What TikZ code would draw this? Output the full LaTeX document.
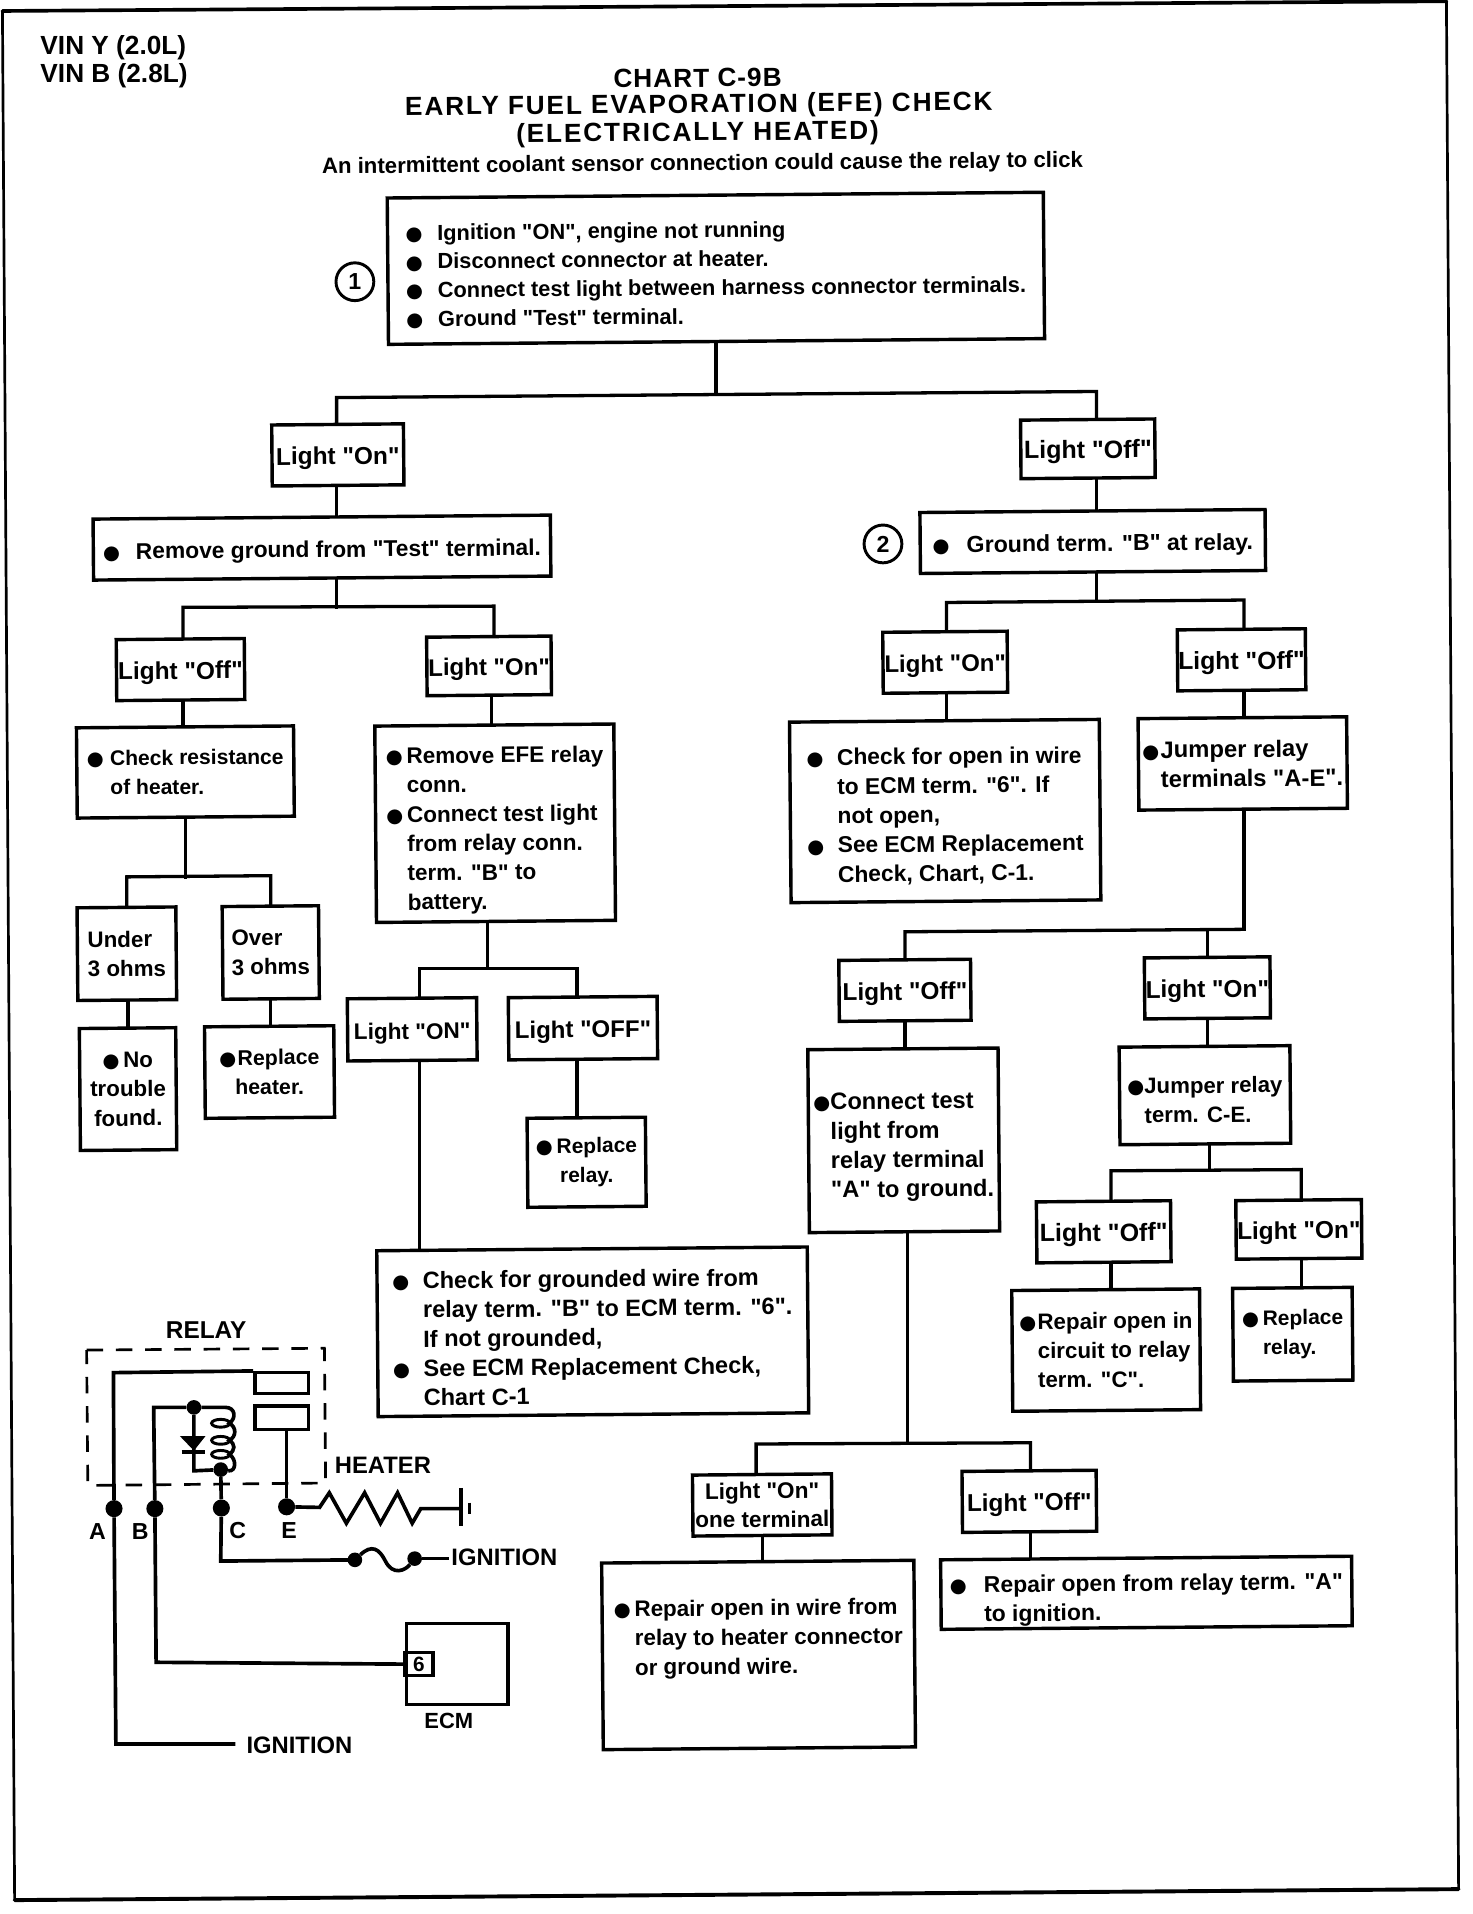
\documentclass[tikz,border=0pt]{standalone}
\usepackage{fontspec}
\usetikzlibrary{backgrounds,calc}
\newfontfamily\hv{Liberation Sans Bold}
\newfontfamily\hvr[LetterSpace=3.8]{Liberation Sans Bold}
\newfontfamily\hvw[LetterSpace=7]{Liberation Sans Bold}
\newfontfamily\bulfont{DejaVu Sans}
\newcommand{\bl}[1][22]{\makebox[#1pt][l]{\bulfont\fontsize{16}{16}\selectfont ●}}
\newcommand{\ind}[1]{\makebox[#1pt]{}}
\newcommand{\dn}[1]{\rule{0pt}{#1pt}}
\tikzset{
 x=1pt,y=-1pt,
 fs/.style={font=\hv\fontsize{#1}{24}\selectfont},
 box/.style={draw=black,fill=white,line width=2.8pt,rotate=0.5,inner sep=0pt,align=left,fs=19,
   execute at begin node={\rule{0pt}{20pt}}},
 boxc/.style={box,align=center},
 wire/.style={line width=2.7pt,line cap=rect,line join=miter},
 sch/.style={line width=3pt,line join=miter},
 lab/.style={inner sep=0pt,fs=19.5},
 ttl/.style={inner sep=0pt,rotate=0.5,font=\hvr\fontsize{21.5}{24}\selectfont},
 ttlw/.style={ttl,font=\hvw\fontsize{21.5}{24}\selectfont},
 num/.style={draw=black,line width=2.4pt,circle,minimum size=31pt,inner sep=0pt,fs=19},
 dot/.style={circle,fill=black,draw=none,minimum size=14pt,inner sep=0pt},
 fdot/.style={circle,fill=black,draw=none,minimum size=12pt,inner sep=0pt},
}
\begin{document}
\begin{tikzpicture}
\useasboundingbox (0,0) rectangle (1207,1569.4);
% page frame
\draw[line width=2.2pt] (2,9) -- (12,1558);
\draw[line width=2.2pt] (1186,1) -- (1196,1549);
\draw[line width=3pt,line cap=round] (2,9) -- (1186,1);
\draw[line width=3.2pt,line cap=round] (12,1558) -- (1196,1549);
% header
\node[lab,anchor=west,fs=21.5] (vin1) at (33,39) {VIN Y (2.0L)};
\node[lab,anchor=west,fs=21.5] (vin2) at (33,62) {VIN B (2.8L)};
\node[ttl] (t1) at (572,64) {CHART C-9B};
\node[ttlw] (t2) at (573,87) {EARLY FUEL EVAPORATION (EFE) CHECK};
\node[ttlw] (t3) at (572,110) {(ELECTRICALLY HEATED)};
\node[ttl,fs=18.2] (t4) at (576,135) {An intermittent coolant sensor connection could cause the relay to click};
% step markers
\node[num] (n1) at (291,231) {1};
\node[num] (n2) at (724,446) {2};
% boxes
\node[box,minimum width=538pt,minimum height=120pt,font=\hv\fontsize{17.9}{23.5}\selectfont] (top) at (587,220) {\dn{22.5}\bl[26]Ignition "ON", engine not running\\\bl[26]Disconnect connector at heater.\\\bl[26]Connect test light between harness connector terminals.\\\bl[26]Ground "Test" terminal.};
\node[boxc,minimum width=108pt,minimum height=50pt,fs=20] (on1) at (277,373) {Light "On"};
\node[boxc,minimum width=110pt,minimum height=48pt,fs=20.5] (off1) at (892,368) {Light "Off"};
\node[box,minimum width=375pt,minimum height=50pt,fs=18.7] (rg) at (264,449) {\bl[27]Remove ground from "Test" terminal.};
\node[box,minimum width=283pt,minimum height=50pt,fs=19] (gb) at (896,444) {\bl[28]Ground term. "B" at relay.};
\node[boxc,minimum width=105pt,minimum height=50pt,fs=20] (off2) at (148,549) {Light "Off"};
\node[boxc,minimum width=102pt,minimum height=48pt,fs=19.7] (on2) at (401,546) {Light "On"};
\node[boxc,minimum width=102pt,minimum height=50pt,fs=19.7] (on3) at (775,543) {Light "On"};
\node[boxc,minimum width=105pt,minimum height=50pt,fs=20.3] (off3) at (1018,541) {Light "Off"};
\node[box,minimum width=178pt,minimum height=74pt,fs=17.3] (cr) at (152,633) {\bl[19]Check resistance\\\ind{19}of heater.};
\node[box,minimum width=196pt,minimum height=161pt,fs=18.5] (efe) at (406,675) {\dn{25}\bl[17]Remove EFE relay\\\ind{17}conn.\\\bl[17]Connect test light\\\ind{17}from relay conn.\\\ind{17}term. "B" to\\\ind{17}battery.};
\node[box,minimum width=254pt,minimum height=148pt,fs=18.7] (co) at (775,665) {\dn{22}\bl[25]Check for open in wire\\\ind{25}to ECM term. "6". If\\\ind{25}not open,\\\bl[25]See ECM Replacement\\\ind{25}Check, Chart, C-1.};
\node[box,minimum width=171pt,minimum height=75pt,fs=19.5] (jr) at (1019,626) {\bl[15]Jumper relay\\\ind{15}terminals "A-E".};
\node[box,minimum width=81pt,minimum height=76pt,fs=18.3] (u3) at (104,782) {Under\\3 ohms};
\node[box,minimum width=79pt,minimum height=76pt,fs=18.3] (o3) at (222,781) {Over\\3 ohms};
\node[boxc,minimum width=79pt,minimum height=100pt,fs=18.3] (nt) at (105,893) {\bl[17]No\\trouble\\found.};
\node[boxc,minimum width=106pt,minimum height=75pt,fs=17.5] (rh) at (221,879) {\bl[15]Replace\\heater.};
\node[boxc,minimum width=106pt,minimum height=51pt,fs=18.5] (lon) at (338,844) {Light "ON"};
\node[boxc,minimum width=122pt,minimum height=51pt,fs=19.7] (loff) at (478,843) {Light "OFF"};
\node[boxc,minimum width=97pt,minimum height=73pt,fs=17.2] (rr1) at (481,953) {\bl[17]Replace\\relay.};
\node[box,minimum width=353pt,minimum height=136pt,fs=19.3] (cg) at (486,1092) {\dn{23}\bl[25]Check for grounded wire from\\\ind{25}relay term. "B" to ECM term. "6".\\\ind{25}If not grounded,\\\bl[25]See ECM Replacement Check,\\\ind{25}Chart C-1};
\node[boxc,minimum width=108pt,minimum height=50pt,fs=20] (off4) at (742,812) {Light "Off"};
\node[boxc,minimum width=103pt,minimum height=50pt,fs=20] (on4) at (990,810) {Light "On"};
\node[box,minimum width=156pt,minimum height=150pt,fs=19.4] (ct) at (741,935) {\dn{25}\bl[14]Connect test\\\ind{14}light from\\\ind{14}relay terminal\\\ind{14}"A" to ground.};
\node[box,minimum width=140pt,minimum height=80pt,fs=18.2] (jc) at (988,898) {\dn{21}\bl[14]Jumper relay\\\ind{14}term. C-E.};
\node[boxc,minimum width=110pt,minimum height=50pt,fs=20.5] (off5) at (905,1010) {Light "Off"};
\node[boxc,minimum width=103pt,minimum height=48pt,fs=20] (on5) at (1065,1008) {Light "On"};
\node[box,minimum width=154pt,minimum height=99pt,fs=18.3] (ro) at (907,1107) {\bl[15]Repair open in\\\ind{15}circuit to relay\\\ind{15}term. "C".};
\node[box,minimum width=98pt,minimum height=76pt,fs=17.2] (rr2) at (1060,1094) {\bl[17]Replace\\\ind{17}relay.};
\node[boxc,minimum width=114pt,minimum height=50pt,font=\hv\fontsize{18.5}{23.5}\selectfont] (on6) at (625,1234) {Light "On"\\one terminal};
\node[boxc,minimum width=110pt,minimum height=50pt,fs=20] (off6) at (844,1231) {Light "Off"};
\node[box,minimum width=256pt,minimum height=153pt,fs=18.4] (rw) at (622,1357) {\bl[17]Repair open in wire from\\\ind{17}relay to heater connector\\\ind{17}or ground wire.\\[6pt]~};
\node[box,minimum width=337pt,minimum height=57pt,fs=18.8] (rf) at (940,1306) {\dn{25}\bl[28]Repair open from relay term. "A"\\\ind{28}to ignition.};
% junctions
\coordinate (b1l) at (276,326); \coordinate (b1r) at (899,321); \coordinate (b1m) at (587,323);
\coordinate (b2l) at (150,498); \coordinate (b2r) at (405,497); \coordinate (b2m) at (276,498);
\coordinate (b3l) at (776,494); \coordinate (b3r) at (1020,492); \coordinate (b3m) at (899,493);
\coordinate (b4l) at (104,719); \coordinate (b4r) at (222,718); \coordinate (b4m) at (152,719);
\coordinate (b5l) at (344,794); \coordinate (b5r) at (473,794); \coordinate (b5m) at (400,794);
\coordinate (b6l) at (742,764); \coordinate (b6r) at (1020,762); \coordinate (b6m) at (990,762);
\coordinate (b7l) at (911,960); \coordinate (b7r) at (1067,959); \coordinate (b7m) at (992,960);
\coordinate (b8l) at (620,1184); \coordinate (b8r) at (845,1183); \coordinate (b8m) at (744,1183);
\begin{pgfonlayer}{background}
\draw[wire] (b1m |- top.center) -- (b1m);
\draw[wire] (b1l |- on1.center) -- (b1l) -- (b1r) -- (b1r |- off1.center);
\draw[wire] (276,398 |- on1.center) -- (276,398 |- rg.center);
\draw[wire] (899,392 |- off1.center) -- (899,392 |- gb.center);
\draw[wire] (b2m |- rg.center) -- (b2m);
\draw[wire] (b2l |- off2.center) -- (b2l) -- (b2r) -- (b2r |- on2.center);
\draw[wire] (b3m |- gb.center) -- (b3m);
\draw[wire] (b3l |- on3.center) -- (b3l) -- (b3r) -- (b3r |- off3.center);
\draw[wire] (150,574 |- off2.center) -- (150,574 |- cr.center);
\draw[wire] (403,570 |- on2.center) -- (403,570 |- efe.center);
\draw[wire] (776,569 |- on3.center) -- (776,569 |- co.center);
\draw[wire] (1020,566 |- off3.center) -- (1020,566 |- jr.center);
\draw[wire] (b4m |- cr.center) -- (b4m);
\draw[wire] (b4l |- u3.center) -- (b4l) -- (b4r) -- (b4r |- o3.center);
\draw[wire] (105,820 |- u3.center) -- (105,820 |- nt.center);
\draw[wire] (222,819 |- o3.center) -- (222,819 |- rh.center);
\draw[wire] (b5m |- efe.center) -- (b5m);
\draw[wire] (b5l |- lon.center) -- (b5l) -- (b5r) -- (b5r |- loff.center);
\draw[wire] (344,870 |- lon.center) -- (344,870 |- cg.center);
\draw[wire] (473,869 |- loff.center) -- (473,869 |- rr1.center);
\draw[wire] (b6r |- jr.center) -- (b6r);
\draw[wire] (b6l |- off4.center) -- (b6l) -- (b6r);
\draw[wire] (b6m) -- (b6m |- on4.center);
\draw[wire] (742,837 |- off4.center) -- (742,837 |- ct.center);
\draw[wire] (990,835 |- on4.center) -- (990,835 |- jc.center);
\draw[wire] (b7m |- jc.center) -- (b7m);
\draw[wire] (b7l |- off5.center) -- (b7l) -- (b7r) -- (b7r |- on5.center);
\draw[wire] (911,1035 |- off5.center) -- (911,1035 |- ro.center);
\draw[wire] (1067,1032 |- on5.center) -- (1067,1032 |- rr2.center);
\draw[wire] (b8m |- ct.center) -- (b8m);
\draw[wire] (b8l |- on6.center) -- (b8l) -- (b8r) -- (b8r |- off6.center);
\draw[wire] (625,1259 |- on6.center) -- (625,1259 |- rw.center);
\draw[wire] (845,1256 |- off6.center) -- (845,1256 |- rf.center);
\end{pgfonlayer}
% relay schematic
\node[lab,fs=20] (relay) at (169,1090.5) {RELAY};
\draw[line width=2.2pt,dash pattern=on 13.5pt off 10.5pt] (71,1107) -- (266,1105.5) -- (267,1216) -- (72,1218) -- cycle;
\node[lab] (heater) at (314,1201.5) {HEATER};
\node[draw=black,line width=2.8pt,inner sep=0pt,minimum width=44pt,minimum height=17pt] (c1) at (231,1134) {};
\node[draw=black,line width=2.8pt,inner sep=0pt,minimum width=44pt,minimum height=19pt] (c2) at (231,1162.4) {};
\node[dot] (a) at (93.5,1237) {};
\node[dot] (b) at (127,1237) {};
\node[dot] (c) at (181.5,1236.5) {};
\node[dot] (e) at (235,1235.5) {};
\node[fdot] (j1) at (159,1154) {};
\node[dot,minimum size=12pt] (j2) at (181,1205) {};
\node[lab,fs=19] (la) at (80,1256) {A};
\node[lab,fs=19] (lb) at (115,1256) {B};
\node[lab,fs=19] (lc) at (195,1255) {C};
\node[lab,fs=19] (le) at (237,1255) {E};
\draw[sch] (a) -- (93,1125.5) -- (c1.north west);
\draw[sch] (a) -- (95,1430) -- (193,1430);
\node[lab,anchor=west] (ign2) at (202,1431) {IGNITION};
\draw[sch] (b) -- (126,1154) -- (j1);
\draw[sch] (j1) -- (185,1154) .. controls (193,1154) and (194,1163) .. (188,1167) .. controls (194,1170) and (194,1178) .. (188,1181) .. controls (193,1184) and (193,1189) .. (188,1192.5) .. controls (194,1196) and (194,1207) .. (j2);
\draw[line width=2.4pt] (181,1167) ellipse [x radius=7.5pt,y radius=3.2pt];
\draw[line width=2.4pt] (181,1181) ellipse [x radius=7.5pt,y radius=3.2pt];
\draw[line width=2.4pt] (181,1192.5) ellipse [x radius=7.5pt,y radius=3.2pt];
\draw[sch] (j1) -- (159,1206) -- (j2);
\fill (147.5,1177.5) -- (168.5,1177.5) -- (159,1189.5) -- cycle;
\draw[sch] (149,1190.5) -- (168,1190.5);
\draw[sch] (j2) -- (c);
\draw[sch] (e) -- (e |- c2.south);
\draw[sch] (c) -- (181,1280) -- (291,1279);
\node[fdot] (f1) at (291,1279) {};
\node[fdot] (f2) at (340,1278) {};
\draw[sch] (f1) .. controls (305,1266) and (311,1270) .. (316,1280) .. controls (322,1292) and (332,1288) .. (f2);
\draw[sch] (f2) -- (368,1278);
\node[lab,anchor=west] (ign1) at (370,1277) {IGNITION};
\draw[sch] (e) -- (262,1236) -- (270,1224) -- (284,1249) -- (299,1224) -- (312,1249) -- (326,1224) -- (338,1249) -- (345,1237) -- (378,1237);
\draw[sch,line width=3.4pt] (378,1220) -- (378,1251);
\draw[sch] (385,1232) -- (385,1241);
\node[draw=black,line width=2.8pt,inner sep=0pt,minimum width=83pt,minimum height=66pt,anchor=north west] (ecm) at (332,1330) {};
\node[draw=black,line width=2.8pt,inner sep=0pt,minimum width=23pt,minimum height=19pt,fs=17] (pin) at (343.5,1364.5) {6};
\draw[sch] (b) -- (128,1363) -- (pin.west);
\node[lab,fs=18] (lecm) at (368,1411) {ECM};
\end{tikzpicture}
\end{document}
